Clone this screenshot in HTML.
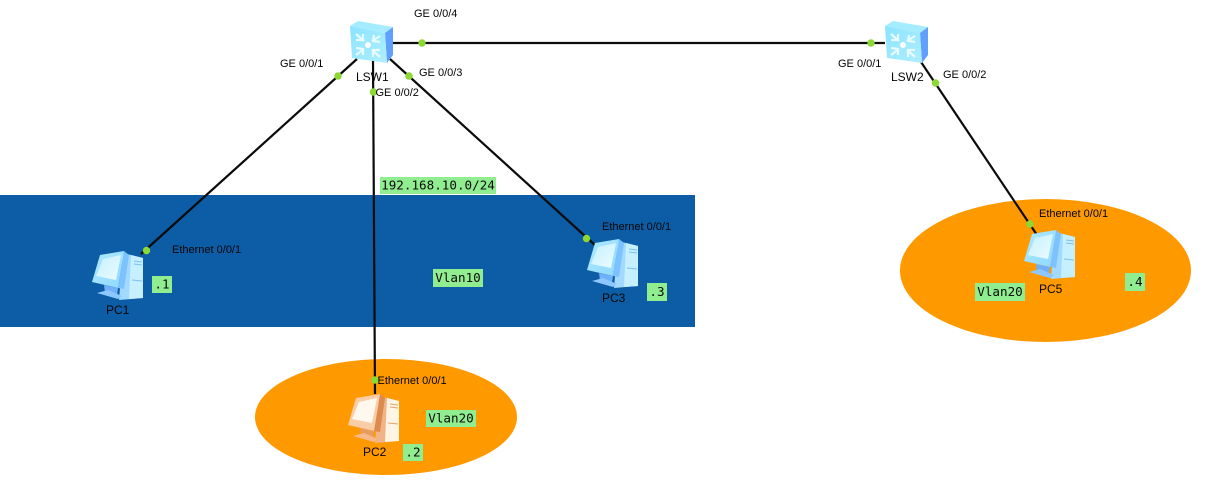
<!DOCTYPE html>
<html>
<head>
<meta charset="utf-8">
<style>
html,body{margin:0;padding:0;background:#fff;width:1227px;height:485px;overflow:hidden}
svg{display:block}
.t{font-family:"Liberation Sans",sans-serif;font-size:11px;fill:#050505}
.n{font-family:"Liberation Sans",sans-serif;font-size:12px;fill:#050505}
.m{font-family:"DejaVu Sans Mono",monospace;font-size:12.6px;fill:#0a0a0a;text-anchor:middle}
.b{fill:#90ee90}
.l{stroke:#0b0b0b;stroke-width:2.2;fill:none}
.d{fill:#8cd835}
</style>
</head>
<body>
<svg width="1227" height="485" viewBox="0 0 1227 485" xmlns="http://www.w3.org/2000/svg">
<defs>
<linearGradient id="sw" x1="0" y1="0" x2="1" y2="1"><stop offset="0" stop-color="#8be4ff"/><stop offset="1" stop-color="#aeeeff"/></linearGradient>
<linearGradient id="mon" x1="0" y1="0" x2="1" y2="1"><stop offset="0" stop-color="#aeeaff"/><stop offset="1" stop-color="#8fd8ff"/></linearGradient>
<linearGradient id="scr" x1="0" y1="0" x2="1" y2="1"><stop offset="0" stop-color="#c4f0ff"/><stop offset="1" stop-color="#ecfbff"/></linearGradient>
<g id="switch">
  <polygon points="0,5 8,0 43,6 35,12" fill="#a4ecff"/>
  <polygon points="35,12 43,6 43,34 37,42" fill="#619fff"/>
  <polygon points="0,5 35,12 37,42 2,37" fill="url(#sw)"/>
  <circle cx="18" cy="24" r="3" fill="#fff"/>
  <g fill="none" stroke="#e8fbff" stroke-width="2.2">
    <path d="M6,13 L14,20 M6,19 L13,19 L13,13"/>
    <path d="M30,15 L22,20 M30,21 L23,20 L24,14"/>
    <path d="M6,34 L14,28 M6,27 L13,28 L13,34"/>
    <path d="M30,36 L22,29 M23,36 L23,29 L30,29"/>
  </g>
</g>
<g id="pcb">
  <polygon points="31,3 51,8 51,48 27,50" fill="#a2daff"/>
  <polygon points="39,5 51,8 51,48 37,49" fill="#c6efff"/>
  <polygon points="32,1 37,5 32,39 26,38" fill="#7cc2ff"/>
  <polygon points="8,5 32,1 26,38 0,32" fill="url(#mon)"/>
  <polygon points="11,9 29,5 24,30 4,26" fill="url(#scr)"/>
  <polygon points="12,35 26,38 25,45 13,43" fill="#6fb0f8"/>
  <polygon points="5,43 16,40 30,46 26,49" fill="#8cc8ff"/>
  <path d="M42,11 L50,12 M42,14 L50,15 M40,30 L50,31" stroke="#7cc0f0" stroke-width="1"/>
</g>
<g id="pco">
  <polygon points="31,3 51,8 51,48 27,50" fill="#f2b487"/>
  <polygon points="39,5 51,8 51,48 37,49" fill="#fff5e4"/>
  <polygon points="32,1 37,5 32,39 26,38" fill="#dd8a50"/>
  <polygon points="8,5 32,1 26,38 0,32" fill="#f9cda6"/>
  <polygon points="11,9 29,5 24,30 4,26" fill="#fff8ef"/>
  <polygon points="12,35 26,38 25,45 13,43" fill="#e89a60"/>
  <polygon points="5,43 16,40 30,46 26,49" fill="#f5b98a"/>
  <path d="M42,11 L50,12 M42,14 L50,15 M40,30 L50,31" stroke="#e8a06c" stroke-width="1"/>
</g>
</defs>

<rect x="0" y="195" width="695" height="132" fill="#0c5da5"/>
<ellipse cx="386" cy="417" rx="131" ry="58" fill="#ff9900"/>
<ellipse cx="1045.5" cy="270.5" rx="145.5" ry="71.5" fill="#ff9900"/>

<path class="l" d="M357,59 L141,254"/>
<path class="l" d="M373,60 L375,394"/>
<path class="l" d="M390,59 L596,246"/>
<path class="l" d="M393,43 L885,43"/>
<path class="l" d="M921,62 L1037,235"/>

<use href="#switch" x="350" y="21"/>
<use href="#switch" x="885" y="21"/>
<use href="#pcb" x="92" y="250"/>
<use href="#pco" x="348" y="393"/>
<use href="#pcb" x="587" y="238"/>
<use href="#pcb" x="1024" y="229"/>

<circle class="d" cx="338" cy="76" r="3.7"/>
<circle class="d" cx="373.5" cy="92" r="3.7"/>
<circle class="d" cx="409" cy="76" r="3.7"/>
<circle class="d" cx="422" cy="43" r="3.7"/>
<circle class="d" cx="871" cy="43" r="3.7"/>
<circle class="d" cx="935.5" cy="83" r="3.7"/>
<circle class="d" cx="146.5" cy="250.5" r="3.7"/>
<circle class="d" cx="375" cy="380" r="3.7"/>
<circle class="d" cx="586.5" cy="238.5" r="3.7"/>
<circle class="d" cx="1030" cy="224" r="3.7"/>

<text class="t" x="414" y="17">GE 0/0/4</text>
<text class="t" x="280" y="67">GE 0/0/1</text>
<text class="t" x="419" y="76">GE 0/0/3</text>
<text class="t" x="375.5" y="96">GE 0/0/2</text>
<text class="t" x="838" y="67">GE 0/0/1</text>
<text class="t" x="943" y="78">GE 0/0/2</text>
<text class="n" x="356" y="81">LSW1</text>
<text class="n" x="891" y="81">LSW2</text>
<text class="t" x="172" y="253">Ethernet 0/0/1</text>
<text class="t" x="377.5" y="384">Ethernet 0/0/1</text>
<text class="t" x="602" y="230">Ethernet 0/0/1</text>
<text class="t" x="1039" y="217">Ethernet 0/0/1</text>
<text class="n" x="106" y="314">PC1</text>
<text class="n" x="363" y="456">PC2</text>
<text class="n" x="602" y="302">PC3</text>
<text class="n" x="1039" y="293">PC5</text>

<rect class="b" x="380" y="177" width="116" height="17"/><text class="m" x="438" y="189.5">192.168.10.0/24</text>
<rect class="b" x="433" y="269" width="50" height="18"/><text class="m" x="458" y="282">Vlan10</text>
<rect class="b" x="426" y="410" width="50" height="17"/><text class="m" x="451" y="422.5">Vlan20</text>
<rect class="b" x="975" y="283" width="50" height="18"/><text class="m" x="1000" y="296">Vlan20</text>
<rect class="b" x="152" y="276" width="20" height="17"/><text class="m" x="162" y="288.5">.1</text>
<rect class="b" x="403" y="444" width="20" height="17"/><text class="m" x="413" y="456.5">.2</text>
<rect class="b" x="647" y="283" width="20" height="18"/><text class="m" x="657" y="296">.3</text>
<rect class="b" x="1125" y="273" width="20" height="18"/><text class="m" x="1135" y="286">.4</text>
</svg>
</body>
</html>
